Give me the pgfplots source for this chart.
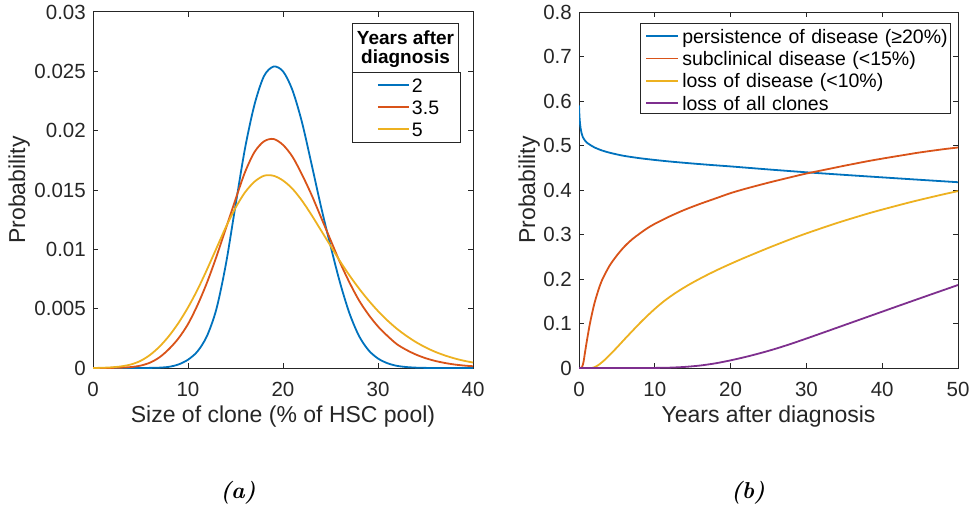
\documentclass[border=0pt]{standalone}
\usepackage{pgfplots}
\pgfplotsset{compat=1.18}
\usepackage{fontspec}
\newfontfamily\arial{Liberation Sans}
\definecolor{mblue}{rgb}{0,0.447,0.741}
\definecolor{mred}{rgb}{0.85,0.325,0.098}
\definecolor{myellow}{rgb}{0.929,0.694,0.125}
\definecolor{mpurple}{rgb}{0.494,0.184,0.556}
\definecolor{axgray}{rgb}{0.15,0.15,0.15}

\pgfplotsset{
  mstyle/.style={
    scale only axis,
    axis line style={line width=1pt, axgray},
    every tick/.style={line width=1pt, axgray},
    major tick length=5pt,
    tick align=inside,
    ticklabel style={font=\arial\fontsize{20.5}{24}\selectfont, text=axgray},
    /pgf/number format/assume math mode=true,
    label style={font=\arial\fontsize{23}{27}\selectfont, text=axgray},
    xticklabel style={inner sep=0pt, anchor=north, yshift=-13.7pt},
    yticklabel style={inner sep=0pt, anchor=east, xshift=-7pt},
    scaled ticks=false,
    legend cell align=left,
    every axis plot/.append style={line width=1.8pt, no marks, smooth},
  }
}

\begin{document}
\begin{tikzpicture}[x=1pt,y=1pt]
\useasboundingbox (0,0) rectangle (971,512);

% ---------------- (a) ----------------
\begin{axis}[mstyle,
  at={(93pt,144pt)}, anchor=south west,
  width=380pt, height=356pt,
  xmin=0, xmax=40, ymin=0, ymax=0.03,
  xtick={0,10,20,30,40},
  ytick={0,0.005,0.01,0.015,0.02,0.025,0.03},
  yticklabel style={/pgf/number format/fixed, /pgf/number format/precision=3},
  xlabel={Size of clone (\% of HSC pool)},
  ylabel={Probability},
  xlabel style={at={(axis description cs:0.5,-0.1525)}, anchor=base},
  ylabel style={at={(axis description cs:-0.1789,0.5)}, anchor=base},
  legend image code/.code={\draw[#1, line width=1.8pt] (20pt,7pt) -- (51.6pt,7pt); \path (0pt,7pt) (53.3pt,7pt);},
  legend style={name=legA, at={(0.6834,0.8306)}, anchor=north west, draw=none,
    inner xsep=4pt, inner ysep=2pt, fill=white, cells={anchor=base west},
    nodes={inner sep=0pt, text height=17.7pt, text depth=4.3pt, text width=44.3pt,
      font=\arial\fontsize{19.5}{23}\selectfont, text=black},
    column sep=0pt, row sep=0pt},
]
\addplot[mblue] coordinates {
(0,0) (1,0) (2,0) (3,0) (4,0) (5,0) (6,0.00001) (7,0.00003) (8,0.0001) (9,0.0003)
(10,0.0007) (11,0.0014) (12,0.0027) (13,0.0050) (14,0.0088) (15,0.0137) (16,0.0185)
(17,0.0222) (18,0.0246) (19,0.0254) (20,0.0250) (21,0.0234) (22,0.0207) (23,0.0172)
(24,0.0136) (25,0.0103) (26,0.0072) (27,0.0046) (28,0.0027) (29,0.0015) (30,0.0008)
(31,0.0004) (32,0.00018) (33,0.00008) (34,0.00003) (35,0.00001) (36,0) (37,0) (38,0)
(39,0) (40,0)};
\addlegendentry{2}
\addplot[mred] coordinates {
(0,0) (1,0) (2,0.00001) (3,0.00003) (4,0.00008) (5,0.0002) (6,0.00045) (7,0.0009)
(8,0.0016) (9,0.0025) (10,0.0037) (11,0.0053) (12,0.0072) (13,0.0094) (14,0.0118)
(15,0.0142) (16,0.0165) (17,0.0182) (18,0.0191) (19,0.0193) (20,0.0188) (21,0.0178)
(22,0.0163) (23,0.0146) (24,0.0127) (25,0.0108) (26,0.0089) (27,0.0072) (28,0.0057)
(29,0.0045) (30,0.0035) (31,0.0027) (32,0.0020) (33,0.00152) (34,0.00113) (35,0.00083)
(36,0.0006) (37,0.00043) (38,0.0003) (39,0.00021) (40,0.00015)};
\addlegendentry{3.5}
\addplot[myellow] coordinates {
(0,0) (1,0.00002) (2,0.00006) (3,0.00014) (4,0.0003) (5,0.0006) (6,0.0011) (7,0.0018)
(8,0.0027) (9,0.0038) (10,0.0051) (11,0.0066) (12,0.0083) (13,0.0101) (14,0.0119)
(15,0.0135) (16,0.0148) (17,0.0157) (18,0.0162) (19,0.0162) (20,0.0158) (21,0.0151)
(22,0.0141) (23,0.0129) (24,0.0116) (25,0.0103) (26,0.0090) (27,0.0078) (28,0.0067)
(29,0.0057) (30,0.0048) (31,0.0040) (32,0.0033) (33,0.0027) (34,0.00218) (35,0.00174)
(36,0.00137) (37,0.00107) (38,0.00082) (39,0.00062) (40,0.00046)};
\addlegendentry{5}
\end{axis}

% legend frame and title box of (a)
\draw[axgray, line width=1pt] (legA.south west) rectangle (legA.north east);
\draw[axgray, line width=1pt, fill=white] (352.7,439.7) rectangle (458.3,488.7);
\node[anchor=base, inner sep=0pt, font=\arial\bfseries\fontsize{19}{22}\selectfont] at (405.5,467.7) {Years after};
\node[anchor=base, inner sep=0pt, font=\arial\bfseries\fontsize{19}{22}\selectfont] at (405.5,448.7) {diagnosis};

% ---------------- (b) ----------------
\begin{axis}[mstyle,
  at={(579pt,144pt)}, anchor=south west,
  width=379pt, height=356pt,
  xmin=0, xmax=50, ymin=0, ymax=0.8,
  xtick={0,10,20,30,40,50},
  ytick={0,0.1,0.2,0.3,0.4,0.5,0.6,0.7,0.8},
  yticklabel style={/pgf/number format/fixed, /pgf/number format/precision=1},
  xlabel={Years after diagnosis},
  ylabel={Probability},
  xlabel style={at={(axis description cs:0.5,-0.1525)}, anchor=base},
  ylabel style={at={(axis description cs:-0.1161,0.5)}, anchor=base},
  legend image code/.code={\draw[#1, line width=1.8pt] (0pt,7pt) -- (32pt,7pt); \path (0pt,7pt) (35.3pt,7pt);},
  legend style={name=legB, at={(0.1628,0.9683)}, anchor=north west, draw=none,
    inner xsep=4.3pt, inner ysep=0pt, fill=white, cells={anchor=base west},
    nodes={inner sep=0pt, text height=19.7pt, text depth=2.7pt, text width=264pt,
      font=\arial\fontsize{19.5}{23}\selectfont, text=black},
    column sep=0pt, row sep=0pt},
]
\addplot[mblue] coordinates {
(0,0.59) (0.05,0.57) (0.1,0.556) (0.2,0.54) (0.35,0.527) (0.5,0.519) (0.75,0.512)
(1,0.507) (1.5,0.501) (2,0.496) (3,0.489) (4,0.484) (5,0.480) (6,0.4765) (8,0.4715)
(10,0.4675) (12,0.4640) (15,0.4595) (18,0.4555) (20,0.453) (25,0.4462) (30,0.4398)
(35,0.4340) (40,0.4284) (45,0.4229) (50,0.4175)};
\addlegendentry{\mbox{persistence of disease (≥20\%)}}
\addplot[mred] coordinates {
(0,0) (0.2,0) (0.4,0.002) (0.6,0.014) (0.8,0.036) (1,0.057) (1.25,0.082) (1.5,0.105)
(2,0.143) (2.5,0.172) (3,0.196) (4,0.229) (5,0.253) (6,0.273) (7,0.289) (8,0.302)
(9,0.314) (10,0.324) (12,0.341) (14,0.356) (16,0.369) (18,0.381) (20,0.393) (22,0.403)
(25,0.4165) (28,0.429) (30,0.437) (33,0.4475) (35,0.4545) (38,0.4645) (40,0.4705)
(43,0.479) (45,0.4845) (48,0.4915) (50,0.4955)};
\addlegendentry{\mbox{subclinical disease (<15\%)}}
\addplot[myellow] coordinates {
(0,0) (1.7,0) (2,0.0015) (2.5,0.006) (3,0.0125) (3.5,0.020) (4,0.0285) (5,0.046)
(6,0.0645) (7,0.0825) (8,0.1003) (9,0.1171) (10,0.1328) (11,0.1473) (12,0.1601)
(13,0.1716) (14,0.1822) (15,0.1920) (16,0.2012) (17,0.2100) (18,0.2184) (19,0.2264)
(20,0.2341) (21,0.2416) (22,0.2489) (25,0.2700) (28,0.2900) (30,0.3025) (33,0.3200)
(35,0.3310) (38,0.3465) (40,0.3560) (43,0.3695) (45,0.3780) (48,0.3900) (50,0.3975)};
\addlegendentry{\mbox{loss of disease (<10\%)}}
\addplot[mpurple] coordinates {
(0,0) (4,0) (8,0) (10,0.0002) (12,0.0008) (14,0.0025) (16,0.0056) (18,0.0105)
(20,0.0172) (22,0.025) (24,0.0338) (26,0.0436) (28,0.0545) (30,0.0662) (32,0.0782)
(34,0.0903) (36,0.1024) (38,0.1145) (40,0.1266) (42,0.1387) (44,0.1507) (46,0.1627)
(48,0.1746) (50,0.1865)};
\addlegendentry{\mbox{loss of all clones}}
\end{axis}
\draw[axgray, line width=1pt] (legB.south west) rectangle (legB.north east);

\node[anchor=base, inner sep=0pt, font=\fontsize{23}{27}\selectfont\bfseries\itshape] at (238,14) {(a)};
\node[anchor=base, inner sep=0pt, font=\fontsize{23}{27}\selectfont\bfseries\itshape] at (748,14) {(b)};
\end{tikzpicture}
\end{document}
